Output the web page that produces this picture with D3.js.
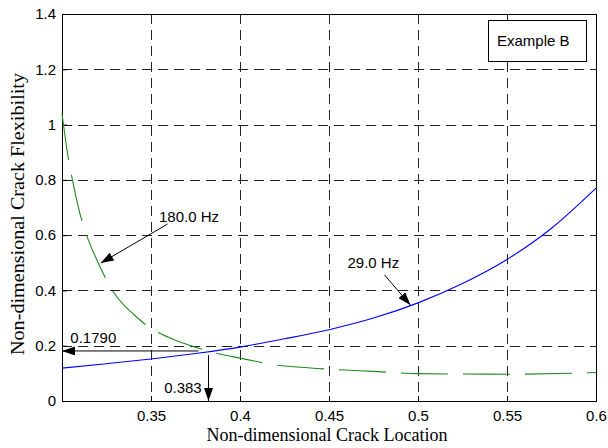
<!DOCTYPE html>
<html>
<head>
<meta charset="utf-8">
<script src="https://cdn.jsdelivr.net/npm/d3@7"></script>
<style>
  body { margin: 0; background: #fff; }
  text { font-family: "Liberation Sans", Arial, sans-serif; }
</style>
</head>
<body>
<script>
// crack location samples and the two flexibility curves
var blueX = [0.3, 0.325, 0.35, 0.375, 0.4, 0.425, 0.45, 0.475, 0.5, 0.525, 0.55, 0.575, 0.6];
var blueY = [0.119, 0.135, 0.152, 0.172, 0.195, 0.225, 0.258, 0.30, 0.355, 0.425, 0.512, 0.625, 0.77];

var greenX = [0.3, 0.3037, 0.3053, 0.31, 0.3138, 0.32, 0.3236, 0.3283, 0.335, 0.34, 0.35, 0.36, 0.37, 0.383, 0.4, 0.408, 0.417, 0.434, 0.45, 0.475, 0.5, 0.55, 0.6];
var greenY = [1.04, 0.872, 0.818, 0.68, 0.60, 0.505, 0.456, 0.40, 0.345, 0.315, 0.262, 0.23, 0.205, 0.179, 0.155, 0.145, 0.133, 0.122, 0.115, 0.107, 0.099, 0.097, 0.103];

var xTicks = [0.35, 0.4, 0.45, 0.5, 0.55, 0.6];
var yTicks = [0, 0.2, 0.4, 0.6, 0.8, 1, 1.2, 1.4];

// annotations: label position and arrow (from -> to) in data units
var notes = [
  {label: "180.0 Hz", tx: 0.3545, ty: 0.648, x1: 0.3593, y1: 0.640, x2: 0.3218, y2: 0.499},
  {label: "29.0 Hz",  tx: 0.4604, ty: 0.481, x1: 0.4812, y1: 0.456, x2: 0.4957, y2: 0.347},
  {label: "0.1790",   tx: 0.3047, ty: 0.210, x1: 0.3766, y1: 0.181, x2: 0.3, y2: 0.181},
  {label: "0.383",    tx: 0.3574, ty: 0.029, x1: 0.3823, y1: 0.166, x2: 0.3823, y2: 0}
];

var margin = {top: 14, right: 12, bottom: 47, left: 62},
    width = 608 - margin.left - margin.right,
    height = 448 - margin.top - margin.bottom;

var x = d3.scaleLinear().domain([0.3, 0.6]).range([0, width]);
var y = d3.scaleLinear().domain([0, 1.4]).range([height, 0]);

var svg = d3.select("body").append("svg")
    .attr("width", 608)
    .attr("height", 448);

svg.append("defs").append("marker")
    .attr("id", "head")
    .attr("viewBox", "0 0 13 9")
    .attr("refX", 13)
    .attr("refY", 4.5)
    .attr("markerWidth", 13)
    .attr("markerHeight", 9)
    .attr("markerUnits", "userSpaceOnUse")
    .attr("orient", "auto")
  .append("path")
    .attr("d", "M0,0L13,4.5L0,9Z")
    .attr("fill", "#000");

var g = svg.append("g")
    .attr("transform", "translate(" + margin.left + "," + margin.top + ")");

// grid
g.selectAll(".vgrid")
    .data(xTicks.slice(0, -1))
  .enter().append("line")
    .attr("x1", function(d) { return Math.round(x(d)) + 0.5; })
    .attr("x2", function(d) { return Math.round(x(d)) + 0.5; })
    .attr("y1", 0)
    .attr("y2", height)
    .attr("stroke", "#222")
    .attr("stroke-dasharray", "10,6");

g.selectAll(".hgrid")
    .data(yTicks.slice(1, -1))
  .enter().append("line")
    .attr("y1", function(d) { return Math.round(y(d)) + 0.5; })
    .attr("y2", function(d) { return Math.round(y(d)) + 0.5; })
    .attr("x1", 0)
    .attr("x2", width)
    .attr("stroke", "#222")
    .attr("stroke-dasharray", "10,6");

// axes
var xAxis = g.append("g")
    .attr("transform", "translate(0," + height + ")")
    .call(d3.axisBottom(x).tickValues(xTicks).tickSize(-5).tickPadding(9)
      .tickFormat(d3.format("~g")));
var yAxis = g.append("g")
    .call(d3.axisLeft(y).tickValues(yTicks).tickSize(-5).tickPadding(6)
      .tickFormat(d3.format("~g")));
[xAxis, yAxis].forEach(function(a) {
  a.select(".domain").remove();
  a.selectAll("line").attr("stroke", "#000");
  a.selectAll("text").attr("font-size", 15).attr("fill", "#000")
    .attr("font-family", "Liberation Sans, Arial, sans-serif");
});

// frame
g.append("rect")
    .attr("x", 0.5).attr("y", 0.5)
    .attr("width", width).attr("height", height)
    .attr("fill", "none")
    .attr("stroke", "#000");

// curves
var line = d3.line()
    .x(function(d) { return x(d[0]); })
    .y(function(d) { return y(d[1]); })
    .curve(d3.curveMonotoneX);

g.append("path")
    .datum(greenX.map(function(v, i) { return [v, greenY[i]]; }))
    .attr("d", line)
    .attr("fill", "none")
    .attr("stroke", "#1f8a1f")
    .attr("stroke-width", 1.1)
    .attr("stroke-dasharray", "47,15");

g.append("path")
    .datum(blueX.map(function(v, i) { return [v, blueY[i]]; }))
    .attr("d", line)
    .attr("fill", "none")
    .attr("stroke", "#0000ff")
    .attr("stroke-width", 1.1);

// annotations
notes.forEach(function(n) {
  g.append("line")
      .attr("x1", x(n.x1)).attr("y1", y(n.y1))
      .attr("x2", x(n.x2)).attr("y2", y(n.y2))
      .attr("stroke", "#000")
      .attr("marker-end", "url(#head)");
  g.append("text")
      .attr("x", x(n.tx)).attr("y", y(n.ty))
      .attr("font-size", 15)
      .text(n.label);
});

// legend box
g.append("rect")
    .attr("x", 426.5).attr("y", 6.5)
    .attr("width", 98).attr("height", 41)
    .attr("fill", "#fff")
    .attr("stroke", "#000");
g.append("text")
    .attr("x", 435).attr("y", 32)
    .attr("font-size", 15)
    .text("Example B");

// axis titles
svg.append("text")
    .attr("x", 327)
    .attr("y", 441)
    .attr("text-anchor", "middle")
    .style("font-family", "Liberation Serif, Times New Roman, serif")
    .attr("font-size", 18)
    .text("Non-dimensional Crack Location");

svg.append("text")
    .attr("transform", "rotate(-90)")
    .attr("x", -214)
    .attr("y", 24)
    .attr("text-anchor", "middle")
    .attr("textLength", 282)
    .attr("lengthAdjust", "spacingAndGlyphs")
    .style("font-family", "Liberation Serif, Times New Roman, serif")
    .attr("font-size", 18)
    .text("Non-dimensional Crack Flexibility");
</script>
</body>
</html>
